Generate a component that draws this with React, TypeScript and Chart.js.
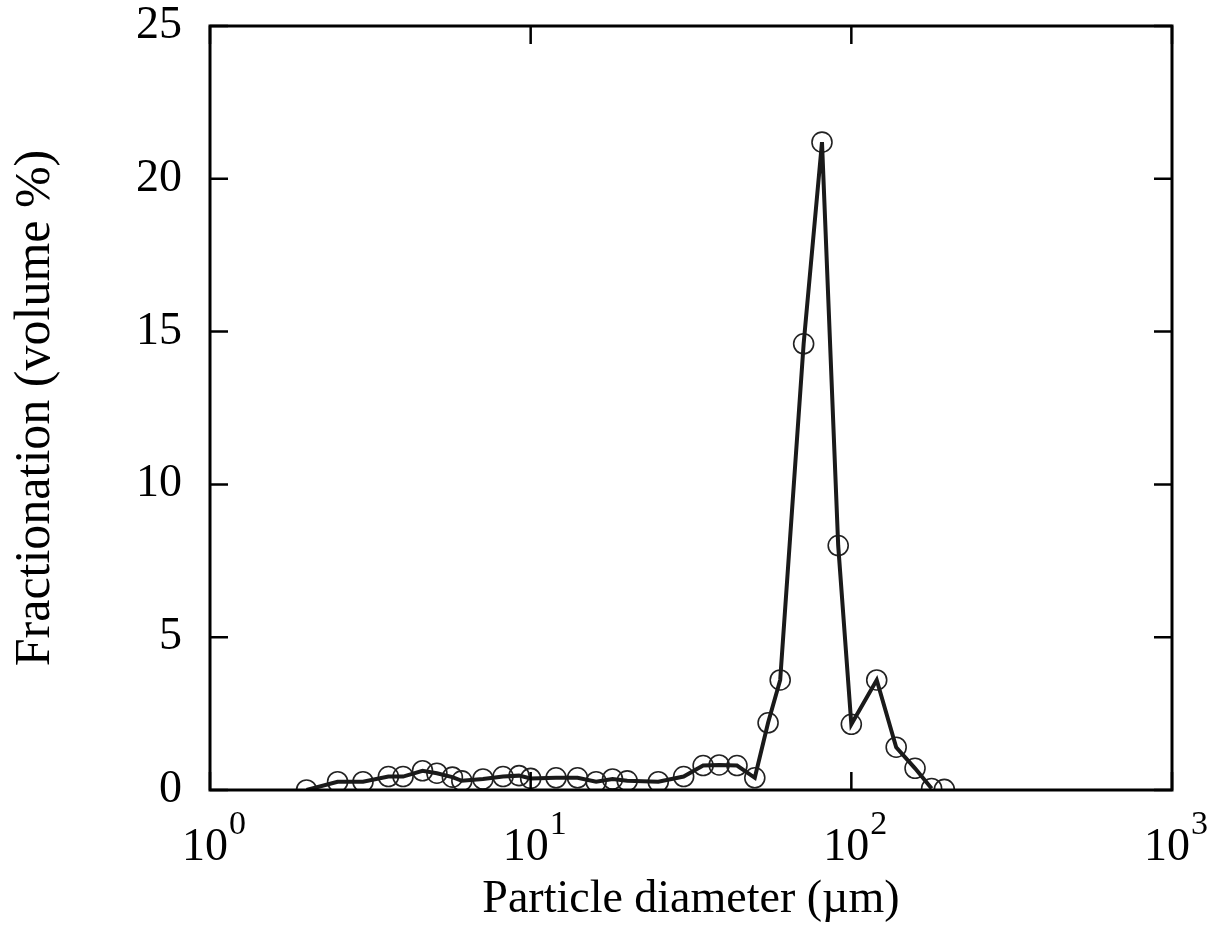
import React, { useEffect, useRef } from "react";
import { Chart, registerables } from "chart.js";

Chart.register(...registerables);

// Particle diameter (µm)
const diameters: number[] = [
  2.0, 2.5, 3.0, 3.6, 4.0, 4.6, 5.1, 5.7, 6.1, 7.1, 8.2, 9.2, 10, 12, 14, 16,
  18, 20, 25, 30, 34.5, 38.7, 44, 50, 55, 60, 71, 81, 91, 100, 120, 138, 158,
  178, 195,
];
// Fractionation (volume %)
const fractions: number[] = [
  0.0, 0.27, 0.27, 0.44, 0.44, 0.63, 0.55, 0.42, 0.3, 0.36, 0.44, 0.47, 0.38,
  0.4, 0.4, 0.27, 0.36, 0.3, 0.27, 0.44, 0.8, 0.82, 0.8, 0.4, 2.2, 3.6, 14.6,
  21.2, 8.0, 2.15, 3.6, 1.4, 0.71, 0.05, 0.02,
];
// the connecting line stops at the second-to-last measurement
const lineCount = 34;

const xTickExponents: number[] = [0, 1, 2, 3];
const yTicks: number[] = [0, 5, 10, 15, 20, 25];

const FONT = "'Liberation Serif', 'Times New Roman', Times, serif";

const framePlugin = {
  id: "frameAndTicks",
  afterDraw(chart: any) {
    const { ctx, chartArea, scales } = chart;
    const { left, right, top, bottom } = chartArea;
    const x = scales.x;
    const y = scales.y;
    ctx.save();
    ctx.strokeStyle = "#000";
    ctx.lineWidth = 3;
    ctx.strokeRect(left, top, right - left, bottom - top);
    ctx.lineWidth = 2.5;
    const tl = 18;
    yTicks.forEach((v) => {
      const py = y.getPixelForValue(v);
      ctx.beginPath();
      ctx.moveTo(left, py);
      ctx.lineTo(left + tl, py);
      ctx.moveTo(right, py);
      ctx.lineTo(right - tl, py);
      ctx.stroke();
    });
    xTickExponents.forEach((e) => {
      const px = x.getPixelForValue(Math.pow(10, e));
      ctx.beginPath();
      ctx.moveTo(px, bottom);
      ctx.lineTo(px, bottom - tl);
      ctx.moveTo(px, top);
      ctx.lineTo(px, top + tl);
      ctx.stroke();
    });
    // x tick labels 10^e
    ctx.fillStyle = "#000";
    ctx.textBaseline = "alphabetic";
    ctx.textAlign = "left";
    const baseFont = `46px ${FONT}`;
    const supFont = `34px ${FONT}`;
    const baseline = bottom + 70;
    xTickExponents.forEach((e) => {
      const px = x.getPixelForValue(Math.pow(10, e));
      ctx.font = baseFont;
      const wb = ctx.measureText("10").width;
      ctx.font = supFont;
      const ws = ctx.measureText(String(e)).width;
      const total = wb + 1 + ws;
      const sx = px - total / 2 + 4;
      ctx.font = baseFont;
      ctx.fillText("10", sx, baseline);
      ctx.font = supFont;
      ctx.fillText(String(e), sx + wb + 1, baseline - 26);
    });
    ctx.restore();
  },
};

export default function App() {
  const canvasRef = useRef<HTMLCanvasElement | null>(null);

  useEffect(() => {
    if (!canvasRef.current) return;
    const points = diameters.map((d, i) => ({ x: d, y: fractions[i] }));
    const chart = new Chart(canvasRef.current, {
      type: "line",
      data: {
        datasets: [
          {
            label: "curve",
            data: points.slice(0, lineCount),
            borderColor: "#1a1a1a",
            borderWidth: 4,
            pointRadius: 0,
            fill: false,
            tension: 0,
          },
          {
            label: "measured",
            data: points,
            showLine: false,
            pointRadius: 10,
            pointBorderWidth: 1.6,
            pointBorderColor: "#222",
            pointBackgroundColor: "rgba(0,0,0,0)",
          },
        ],
      },
      plugins: [framePlugin],
      options: {
        animation: false,
        responsive: true,
        maintainAspectRatio: false,
        layout: { padding: { left: 0, top: 26, right: 42, bottom: 0 } },
        plugins: {
          legend: { display: false },
          tooltip: { enabled: false },
        },
        scales: {
          x: {
            type: "logarithmic",
            min: 1,
            max: 1000,
            grid: { display: false },
            border: { display: false },
            ticks: { display: false },
            afterFit: (s: any) => {
              s.height = 150;
              s.paddingLeft = 0;
              s.paddingRight = 0;
            },
            title: {
              display: true,
              text: "Particle diameter (\u00b5m)",
              color: "#000",
              font: { family: FONT, size: 46 },
              padding: { top: 0, bottom: 12 },
            },
          },
          y: {
            type: "linear",
            min: 0,
            max: 25,
            grid: { display: false, drawTicks: false },
            border: { display: false },
            afterBuildTicks: (s: any) => {
              s.ticks = yTicks.map((v) => ({ value: v }));
            },
            ticks: {
              color: "#000",
              font: { family: FONT, size: 46 },
              padding: 28,
            },
            afterFit: (s: any) => {
              s.width = 210;
              s.paddingTop = 0;
              s.paddingBottom = 0;
            },
            title: {
              display: true,
              text: "Fractionation (volume %)",
              color: "#000",
              font: { family: FONT, size: 50 },
              padding: { top: 6, bottom: 0 },
            },
          },
        },
      },
    });
    return () => chart.destroy();
  }, []);

  return (
    <div
      style={{
        position: "absolute",
        left: 0,
        top: 0,
        width: 1214,
        height: 940,
        background: "#fff",
      }}
    >
      <canvas ref={canvasRef} />
    </div>
  );
}
